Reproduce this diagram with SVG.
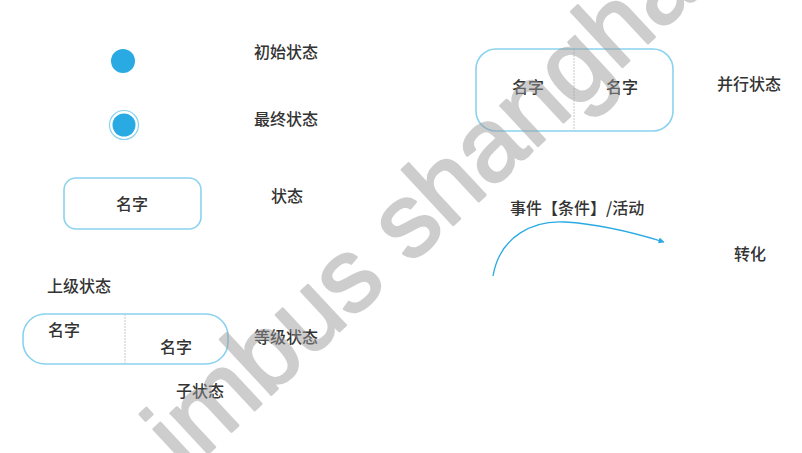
<svg xmlns="http://www.w3.org/2000/svg" width="802" height="453" viewBox="0 0 802 453">
<style>
.t{font-family:"Noto Sans CJK SC","Noto Sans",sans-serif;font-size:16px;fill:#333;font-weight:500}
.box{fill:#fff;stroke:#8ad2ef;stroke-width:1.6}
.div{stroke:#c8c8c8;stroke-width:1;stroke-dasharray:2 1}
.dot{fill:#2aaae2}
.wm{font-family:"Liberation Sans",Arial,sans-serif;font-size:104px;font-weight:normal;fill:#999;stroke:#999;stroke-width:2.6;stroke-linejoin:round;opacity:0.48}
</style>
<defs>
<marker id="ah" viewBox="0 0 10 10" refX="9" refY="5" markerWidth="6" markerHeight="6" orient="auto" markerUnits="userSpaceOnUse">
<path d="M0,0 L10,5 L0,10 z" fill="#2aaae2"/>
</marker>
</defs>
<rect width="802" height="453" fill="#fff"/>
<g id="initial">
<circle class="dot" cx="123" cy="61" r="12"/>
<text class="t" x="254" y="58">初始状态</text>
</g>
<g id="final">
<circle cx="124" cy="125" r="14.5" fill="none" stroke="#8ad2ef" stroke-width="1.2"/>
<circle class="dot" cx="124" cy="125" r="11.5"/>
<text class="t" x="254" y="125">最终状态</text>
</g>
<g id="state">
<rect class="box" x="64" y="178" width="137" height="51" rx="12"/>
<text class="t" x="132" y="210" text-anchor="middle">名字</text>
<text class="t" x="271" y="202">状态</text>
</g>
<g id="hier">
<text class="t" x="47" y="292">上级状态</text>
<rect class="box" x="23" y="314" width="205" height="50" rx="22"/>
<line class="div" x1="125" y1="314" x2="125" y2="364"/>
<text class="t" x="64" y="336" text-anchor="middle">名字</text>
<text class="t" x="176" y="353" text-anchor="middle">名字</text>
<text class="t" x="254" y="343">等级状态</text>
<text class="t" x="176" y="397">子状态</text>
</g>
<g id="concurrent">
<rect class="box" x="476" y="49" width="197" height="82" rx="20"/>
<line class="div" x1="574" y1="49" x2="574" y2="131"/>
<text class="t" x="528" y="93" text-anchor="middle">名字</text>
<text class="t" x="622" y="93" text-anchor="middle">名字</text>
<text class="t" x="717" y="90">并行状态</text>
</g>
<g id="connectors">
<path d="M493,276 C500,235 535,220 565,222 C600,224 635,233 664,242" fill="none" stroke="#2aaae2" stroke-width="1.3" marker-end="url(#ah)"/>
</g>
<g id="transition">
<text class="t" x="510" y="214">事件【条件】/活动</text>
<text class="t" x="734" y="260">转化</text>
</g>
<text class="wm" transform="translate(186,474) rotate(-43)">imbus shanghai</text>
</svg>
